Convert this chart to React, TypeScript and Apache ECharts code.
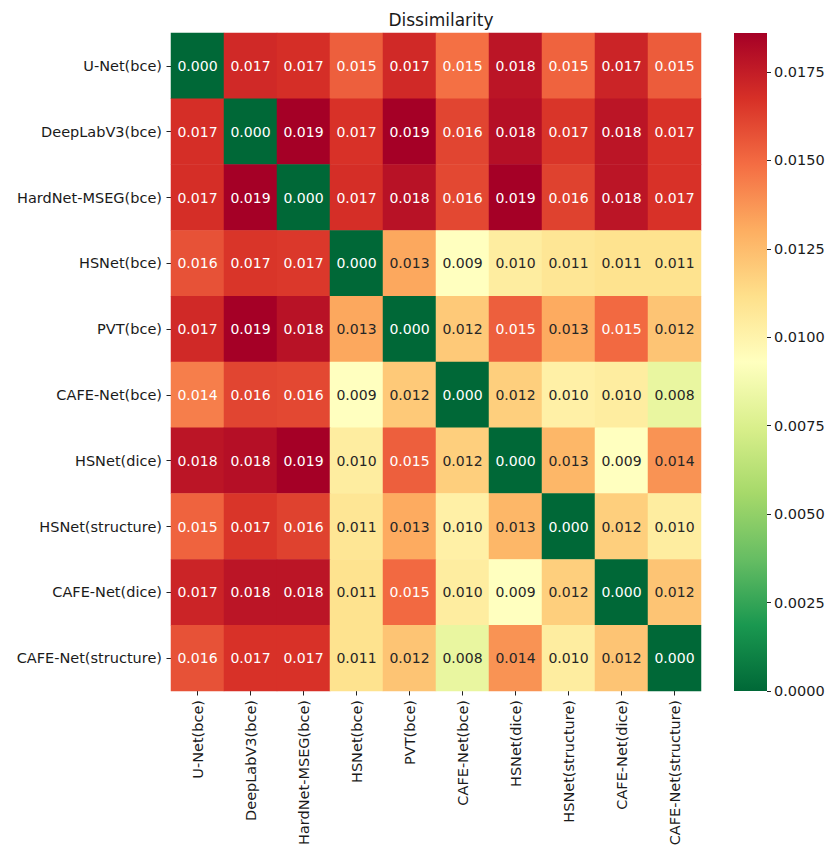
import React, { useEffect, useRef } from "react";
import * as echarts from "echarts";

const labels = [
  "U-Net(bce)",
  "DeepLabV3(bce)",
  "HardNet-MSEG(bce)",
  "HSNet(bce)",
  "PVT(bce)",
  "CAFE-Net(bce)",
  "HSNet(dice)",
  "HSNet(structure)",
  "CAFE-Net(dice)",
  "CAFE-Net(structure)",
];

const matrix: number[][] = [
  [0.0, 0.017, 0.0168, 0.0153, 0.017, 0.0148, 0.0178, 0.0152, 0.0172, 0.0154],
  [0.0168, 0.0, 0.0186, 0.0167, 0.0186, 0.0161, 0.018, 0.0166, 0.0178, 0.0167],
  [0.0168, 0.0186, 0.0, 0.0168, 0.0179, 0.016, 0.0186, 0.0162, 0.0178, 0.0167],
  [0.0157, 0.0166, 0.0165, 0.0, 0.0132, 0.0093, 0.0104, 0.0108, 0.011, 0.011],
  [0.017, 0.0186, 0.0179, 0.0132, 0.0, 0.012, 0.0153, 0.0131, 0.015, 0.0122],
  [0.0144, 0.0161, 0.016, 0.0093, 0.012, 0.0, 0.0118, 0.0102, 0.0104, 0.0082],
  [0.0178, 0.018, 0.0186, 0.0104, 0.0153, 0.0118, 0.0, 0.0127, 0.0093, 0.0138],
  [0.0152, 0.0166, 0.0162, 0.0108, 0.0131, 0.0102, 0.0127, 0.0, 0.0118, 0.0104],
  [0.0172, 0.0178, 0.0178, 0.011, 0.015, 0.0104, 0.0093, 0.0118, 0.0, 0.0122],
  [0.0157, 0.0167, 0.0167, 0.011, 0.0122, 0.0082, 0.0138, 0.0104, 0.0122, 0.0],
];

const vMin = 0;
const vMax = 0.0186;
const colorbarTicks = 0.0025;

const palette = [
  "#006837",
  "#1a9850",
  "#66bd63",
  "#a6d96a",
  "#d9ef8b",
  "#ffffbf",
  "#fee08b",
  "#fdae61",
  "#f46d43",
  "#d73027",
  "#a50026",
];

const FONT = "DejaVu Sans";
const TEXT = "#1a1a1a";

export default function App() {
  const ref = useRef<HTMLDivElement>(null);

  useEffect(() => {
    document.body.style.margin = "0";
    if (!ref.current) return;
    const chart = echarts.init(ref.current, undefined, { renderer: "svg" });

    const data: any[] = [];
    matrix.forEach((row, r) => {
      row.forEach((v, c) => {
        const light = v > 0.0142 || v < 0.003;
        data.push({
          value: [c, r, v],
          label: { color: light ? "#ffffff" : "#262626" },
        });
      });
    });

    const gradientStops = palette
      .slice()
      .reverse()
      .map((col, i) => ({ offset: i / (palette.length - 1), color: col }));

    const option: any = {
      animation: false,
      backgroundColor: "#ffffff",
      textStyle: { fontFamily: FONT },
      title: {
        text: "Dissimilarity",
        left: 436,
        top: 6,
        textAlign: "center",
        textStyle: { fontFamily: FONT, fontSize: 17, fontWeight: "normal", color: TEXT },
      },
      grid: [
        { left: 171, top: 33, width: 530, height: 658, containLabel: false },
        { left: 734, top: 33, width: 33, height: 658, containLabel: false },
      ],
      xAxis: [
        {
          type: "category",
          gridIndex: 0,
          data: labels,
          position: "bottom",
          axisLine: { show: false },
          axisTick: { show: true, alignWithLabel: true, length: 4.5, lineStyle: { color: "#222", width: 1 } },
          axisLabel: {
            rotate: 90,
            interval: 0,
            fontFamily: FONT,
            fontSize: 14.5,
            color: TEXT,
            margin: 9,
          },
          splitLine: { show: false },
          splitArea: { show: false },
        },
        {
          type: "category",
          gridIndex: 1,
          data: ["cb"],
          show: false,
        },
      ],
      yAxis: [
        {
          type: "category",
          gridIndex: 0,
          data: labels,
          inverse: true,
          axisLine: { show: false },
          axisTick: { show: true, alignWithLabel: true, length: 4.5, lineStyle: { color: "#222", width: 1 } },
          axisLabel: {
            interval: 0,
            fontFamily: FONT,
            fontSize: 14.5,
            color: TEXT,
            margin: 9,
          },
          splitLine: { show: false },
          splitArea: { show: false },
        },
        {
          type: "value",
          gridIndex: 1,
          min: vMin,
          max: vMax,
          interval: colorbarTicks,
          position: "right",
          axisLine: { show: false },
          axisTick: { show: true, length: 4, lineStyle: { color: "#222", width: 1 } },
          axisLabel: {
            fontFamily: FONT,
            fontSize: 14.5,
            color: TEXT,
            margin: 7,
            formatter: (v: number) => v.toFixed(4),
            showMaxLabel: false,
          },
          splitLine: { show: false },
        },
      ],
      visualMap: {
        show: false,
        type: "continuous",
        min: vMin,
        max: vMax,
        seriesIndex: 0,
        dimension: 2,
        inRange: { color: palette },
      },
      series: [
        {
          type: "heatmap",
          xAxisIndex: 0,
          yAxisIndex: 0,
          data,
          label: {
            show: true,
            fontFamily: FONT,
            fontSize: 14,
            formatter: (p: any) => (p.value[2] as number).toFixed(3),
          },
          itemStyle: { borderWidth: 0 },
          emphasis: { disabled: true },
        },
        {
          type: "bar",
          xAxisIndex: 1,
          yAxisIndex: 1,
          data: [vMax],
          barWidth: "100%",
          silent: true,
          itemStyle: {
            color: new echarts.graphic.LinearGradient(0, 0, 0, 1, gradientStops),
          },
        },
      ],
    };

    chart.setOption(option);
    return () => chart.dispose();
  }, []);

  return <div ref={ref} style={{ width: 832, height: 854 }} />;
}
